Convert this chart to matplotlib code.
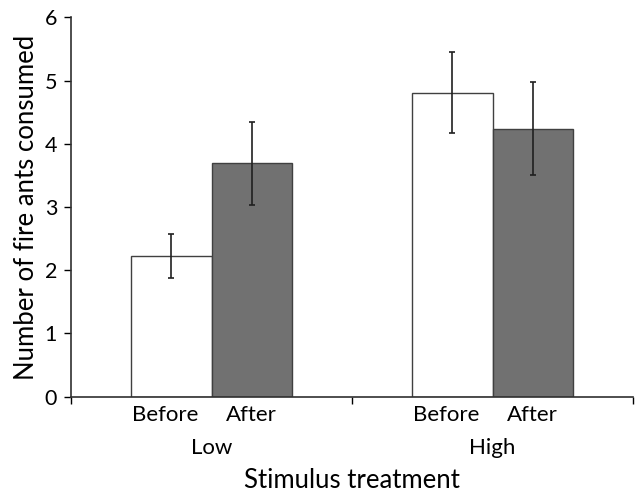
import numpy as np
import matplotlib.pyplot as plt
from matplotlib.ticker import FixedLocator

plt.rcParams['font.family'] = ['Lato', 'DejaVu Sans']

groups = ['Low', 'High']
series = ['Before', 'After']
means_before = [2.23, 4.81]
means_after = [3.69, 4.24]
err_before = [0.35, 0.64]
err_after = [0.66, 0.74]

fig = plt.figure(figsize=(6.38, 4.93), dpi=100)
ax = fig.add_axes([0.1113, 0.1953, 0.8809, 0.7696])

x = np.arange(len(groups))
w = 0.2865
ax.bar(x - w / 2, means_before, w, color='white', edgecolor='#404040', linewidth=1.0, zorder=2)
ax.bar(x + w / 2, means_after, w, color='#717171', edgecolor='#404040', linewidth=1.0, zorder=2)
ax.errorbar(x - w / 2, means_before, yerr=err_before, fmt='none', ecolor='#202020',
            elinewidth=1.2, capsize=2.5, capthick=1.2, zorder=3)
ax.errorbar(x + w / 2, means_after, yerr=err_after, fmt='none', ecolor='#202020',
            elinewidth=1.2, capsize=2.5, capthick=1.2, zorder=3)

ax.set_xlim(-0.5, 1.5)
ax.set_ylim(0, 6)
ax.set_yticks(range(0, 7))
ax.tick_params(axis='y', direction='out', length=5, width=1, labelsize=15.5, pad=5)

# bar labels as major ticks, group boundaries as minor ticks
ax.set_xticks(np.concatenate([x - w / 2 - 0.02, x + w / 2]))
ax.set_xticklabels(['Before'] * 2 + ['After'] * 2)
ax.tick_params(axis='x', which='major', length=0, labelsize=16, pad=6)
ax.xaxis.set_minor_locator(FixedLocator([-0.5, 0.5, 1.5]))
ax.tick_params(axis='x', which='minor', direction='out', length=5, width=1)

for xi, g in zip(x, groups):
    ax.text(xi, -0.135, g, transform=ax.get_xaxis_transform(), ha='center', va='center', fontsize=16)

ax.set_xlabel('Stimulus treatment', fontsize=18.5, labelpad=31)
ax.set_ylabel('Number of fire ants consumed', fontsize=18.5, labelpad=4)

for s in ['top', 'right']:
    ax.spines[s].set_visible(False)
for s in ['left', 'bottom']:
    ax.spines[s].set_color('#303030')
    ax.spines[s].set_linewidth(1.2)

fig.savefig('out.png', dpi=100)
